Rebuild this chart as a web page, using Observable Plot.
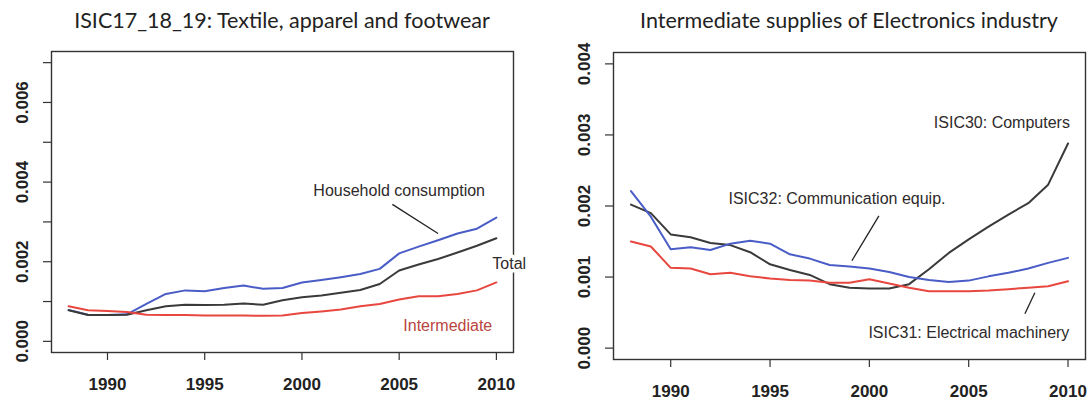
<!DOCTYPE html>
<html>
<head>
<meta charset="utf-8">
<script src="https://cdn.jsdelivr.net/npm/d3@7"></script>
<script src="https://cdn.jsdelivr.net/npm/@observablehq/plot@0.6"></script>
<style>
  body { margin: 0; background: #fff; }
  #wrap { display: flex; width: 1090px; height: 405px; overflow: hidden; }
  .panel { width: 545px; height: 405px; }
  .title {
    height: 40px; box-sizing: border-box; padding-top: 8px;
    font-family: Lato, "Open Sans", sans-serif; font-size: 21.5px; line-height: 24px;
    color: #222; text-align: center; white-space: nowrap;
  }
  svg { display: block; }
</style>
</head>
<body>
<div id="wrap">
  <div class="panel" id="textile"></div>
  <div class="panel" id="electronics"></div>
</div>
<script>
// Years on the horizontal axis
const years = [1988, 1989, 1990, 1991, 1992, 1993, 1994, 1995, 1996, 1997, 1998, 1999,
               2000, 2001, 2002, 2003, 2004, 2005, 2006, 2007, 2008, 2009, 2010];

// ISIC17_18_19: Textile, apparel and footwear
const textileHousehold = [0.00079, 0.00067, 0.00066, 0.00068, 0.00094, 0.00119, 0.00128, 0.00126,
  0.00134, 0.00140, 0.00132, 0.00134, 0.00148, 0.00154, 0.00161, 0.00169, 0.00182, 0.00221,
  0.00238, 0.00254, 0.00271, 0.00283, 0.00311];
const textileTotal = [0.00078, 0.00066, 0.00066, 0.00067, 0.00078, 0.00088, 0.00092, 0.00091,
  0.00092, 0.00095, 0.00092, 0.00103, 0.00111, 0.00115, 0.00122, 0.00129, 0.00144, 0.00178,
  0.00193, 0.00207, 0.00223, 0.00240, 0.00259];
const textileIntermediate = [0.00088, 0.00078, 0.00076, 0.00074, 0.00067, 0.00066, 0.00066, 0.00065,
  0.00065, 0.00065, 0.00064, 0.00065, 0.00071, 0.00075, 0.00080, 0.00088, 0.00094, 0.00105,
  0.00113, 0.00113, 0.00119, 0.00128, 0.00148];

// Intermediate supplies of Electronics industry
const isic30Computers = [0.00202, 0.00190, 0.00160, 0.00156, 0.00148, 0.00145, 0.00135, 0.00118,
  0.00110, 0.00103, 0.00090, 0.00085, 0.00084, 0.00084, 0.00090, 0.00111, 0.00134, 0.00153,
  0.00171, 0.00188, 0.00204, 0.00230, 0.00288];
const isic32Communication = [0.00221, 0.00185, 0.00139, 0.00142, 0.00138, 0.00147, 0.00151, 0.00147,
  0.00132, 0.00126, 0.00117, 0.00115, 0.00112, 0.00107, 0.00100, 0.00096, 0.00093, 0.00095,
  0.00101, 0.00106, 0.00112, 0.00120, 0.00127];
const isic31Electrical = [0.00150, 0.00143, 0.00113, 0.00112, 0.00104, 0.00106, 0.00101, 0.00098,
  0.00096, 0.00095, 0.00092, 0.00092, 0.00097, 0.00091, 0.00085, 0.00080, 0.00080, 0.00080,
  0.00081, 0.00083, 0.00085, 0.00087, 0.00094];

// Axis ticks
const xTicks = [1990, 1995, 2000, 2005, 2010];
const textileYTicks = [0, 0.001, 0.002, 0.003, 0.004, 0.005, 0.006, 0.007];
const textileYLabelled = [0, 0.002, 0.004, 0.006];
const electronicsYTicks = [0, 0.001, 0.002, 0.003, 0.004];

// In-plot annotations (year, value) and their pointer segments
const textileNotes = ["Household consumption", "Total", "Intermediate"];
const textileNoteYear = [2005.0, 2010.66, 2007.5];
const textileNoteValue = [0.00378, 0.00195, 0.00040];
const textilePointer = [{x1: 2004.65, y1: 0.00344, x2: 2007.0, y2: 0.00271}];

const electronicsNotes = ["ISIC30: Computers", "ISIC32: Communication equip.", "ISIC31: Electrical machinery"];
const electronicsNoteYear = [2006.67, 1998.37, 2005.01];
const electronicsNoteValue = [0.00317, 0.00210, 0.00022];
const electronicsPointers = [
  {x1: 2000.48, y1: 0.00186, x2: 1999.12, y2: 0.00123},
  {x1: 2008.33, y1: 0.00078, x2: 2007.83, y2: 0.000485}
];

const BLUE = "#4a5cc6", BLACK = "#3a3a3a", RED = "#e8473f", INK = "#2e2a2a";
const fmt3 = d3.format(".3f");
const rows = (vals) => years.map((year, i) => ({year, value: vals[i]}));
const notes = (text, yr, val) => text.map((t, i) => ({text: t, year: yr[i], value: val[i]}));

function panel(el, title, titleLeft, titleWidth, opts) {
  const host = document.getElementById(el);
  const t = document.createElement("div");
  t.className = "title";
  t.style.marginLeft = titleLeft + "px";
  t.style.width = titleWidth + "px";
  t.textContent = title;
  host.appendChild(t);
  host.appendChild(Plot.plot({
    width: 545,
    height: 365,
    ...opts.margins,
    style: {fontFamily: "'Liberation Sans', Arial, sans-serif", background: "transparent", color: "#222"},
    x: {domain: [1987.12, 2010.88]},
    y: {domain: opts.yDomain},
    marks: [
      Plot.axisX({ticks: xTicks, tickFormat: "d", tickSize: 8, tickPadding: 17,
        fontSize: 17, fontWeight: "bold", stroke: "#333", strokeWidth: 1.2, label: null}),
      Plot.axisY({ticks: opts.yTicks, tickFormat: opts.yFormat, tickRotate: -90, tickSize: 8,
        tickPadding: 16, fontSize: 17, fontWeight: "bold", stroke: "#333", strokeWidth: 1.2, label: null}),
      ...opts.series.map(([vals, color]) =>
        Plot.lineY(rows(vals), {x: "year", y: "value", stroke: color, strokeWidth: 2})),
      Plot.frame({stroke: "#333", strokeWidth: 1.4}),
      Plot.link(opts.pointers, {x1: "x1", y1: "y1", x2: "x2", y2: "y2", stroke: "#222", strokeWidth: 1.3}),
      Plot.text(opts.notes, {x: "year", y: "value", text: "text", fill: opts.noteFill,
        fontSize: 16, textAnchor: "middle", lineAnchor: "middle",
        stroke: opts.noteHalo, strokeWidth: 7, paintOrder: "stroke"})
    ]
  }));
}

panel("textile", "ISIC17_18_19: Textile, apparel and footwear", 51, 462, {
  margins: {marginLeft: 51, marginRight: 32, marginTop: 11, marginBottom: 53},
  yDomain: [-0.00028, 0.00728],
  yTicks: textileYTicks,
  yFormat: d => textileYLabelled.some(v => Math.abs(v - d) < 1e-9) ? fmt3(d) : "",
  series: [[textileHousehold, BLUE], [textileTotal, BLACK], [textileIntermediate, RED]],
  pointers: textilePointer,
  notes: notes(textileNotes, textileNoteYear, textileNoteValue),
  noteFill: d => d.text === "Intermediate" ? "#b8453e" : INK,
  noteHalo: d => d.text === "Total" ? "white" : "none"
});

panel("electronics", "Intermediate supplies of Electronics industry", 68, 472, {
  margins: {marginLeft: 68, marginRight: 5, marginTop: 12, marginBottom: 46},
  yDomain: [-0.00016, 0.00416],
  yTicks: electronicsYTicks,
  yFormat: fmt3,
  series: [[isic30Computers, BLACK], [isic32Communication, BLUE], [isic31Electrical, RED]],
  pointers: electronicsPointers,
  notes: notes(electronicsNotes, electronicsNoteYear, electronicsNoteValue),
  noteFill: INK,
  noteHalo: "none"
});
</script>
</body>
</html>
